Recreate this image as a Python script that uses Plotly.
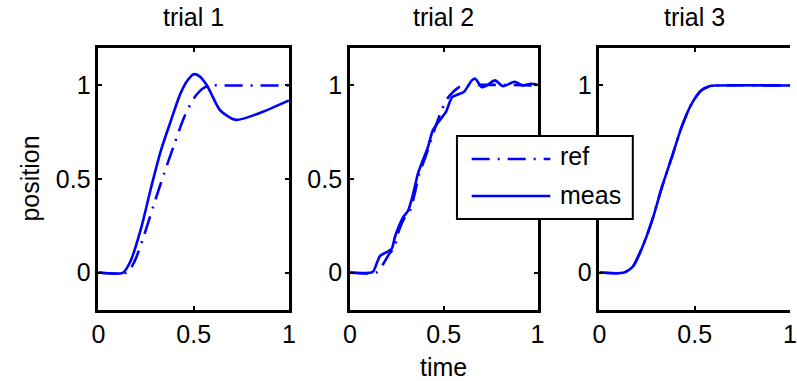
import plotly.graph_objects as go

W, H = 797, 381

# ---------------- data ----------------
trial_titles = ["trial 1", "trial 2", "trial 3"]
series_names = ["ref", "meas"]
tick_vals_x = [0, 0.5, 1]
tick_text_x = ["0", "0.5", "1"]
tick_vals_y = [0, 0.5, 1]
tick_text_y = ["0", "0.5", "1"]
# in trial 3 the "0.5" label sits hidden under the legend box
tick_text_y_hidden = ["0", "", "1"]

t1_ref = [0, 0.15, 0.19, 0.24, 0.29, 0.345, 0.40, 0.45, 0.50, 0.55, 0.59, 0.65, 1.0]
y1_ref = [0, 0, 0.06, 0.20, 0.36, 0.53, 0.69, 0.83, 0.93, 0.985, 1.0, 1.0, 1.0]
t1_meas = [0, 0.13, 0.17, 0.225, 0.277, 0.328, 0.38, 0.43, 0.47, 0.50, 0.53, 0.57, 0.64, 0.72, 0.84, 1.0]
y1_meas = [0, 0, 0.064, 0.24, 0.456, 0.652, 0.81, 0.955, 1.03, 1.06, 1.05, 1.0, 0.866, 0.816, 0.85, 0.92]

t2_ref = [0, 0.14, 0.18, 0.21, 0.235, 0.26, 0.29, 0.32, 0.345, 0.37, 0.40, 0.43, 0.46,
          0.49, 0.52, 0.55, 0.58, 0.61, 1.0]
y2_ref = [0, 0, 0.05, 0.10, 0.13, 0.22, 0.29, 0.33, 0.42, 0.53, 0.61, 0.70, 0.79,
          0.87, 0.93, 0.965, 0.99, 1.0, 1.0]
t2_meas = [0, 0.115, 0.127, 0.162, 0.197, 0.223, 0.24, 0.258, 0.284, 0.31, 0.337, 0.363,
           0.389, 0.416, 0.442, 0.476, 0.511, 0.545, 0.572, 0.607, 0.65, 0.668, 0.703,
           0.73, 0.773, 0.817, 0.878, 0.92, 0.965, 1.0]
y2_meas = [0, 0, 0.01, 0.09, 0.11, 0.127, 0.19, 0.24, 0.296, 0.33, 0.42, 0.53,
           0.60, 0.67, 0.76, 0.81, 0.857, 0.937, 0.95, 0.965, 1.027, 1.036, 0.99,
           1.0, 1.027, 0.996, 1.02, 1.0, 1.009, 1.005]

t3_ref = [0, 0.13, 0.174, 0.225, 0.277, 0.328, 0.38, 0.431, 0.483, 0.534, 0.586, 0.62, 1.0]
y3_ref = [0, 0, 0.03, 0.135, 0.28, 0.456, 0.617, 0.777, 0.90, 0.973, 0.998, 1.0, 1.0]
t3_meas = [0, 0.13, 0.174, 0.225, 0.277, 0.328, 0.38, 0.431, 0.483, 0.534, 0.586, 0.62, 1.0]
y3_meas = [0, 0, 0.03, 0.135, 0.28, 0.456, 0.617, 0.777, 0.90, 0.973, 0.998, 1.0, 1.0]

series = [(t1_ref, y1_ref, t1_meas, y1_meas),
          (t2_ref, y2_ref, t2_meas, y2_meas),
          (t3_ref, y3_ref, t3_meas, y3_meas)]

# ---------------- layout geometry (pixels) ----------------
panels_px = [(93, 287), (349, 540), (603, 797)]
top_px, bot_px = 48, 310

BLUE = "#0000FF"
FONT = "Liberation Sans, Arial, Helvetica, sans-serif"
FS = 25
REF_DASH = "18px,8px,2px,8px"
LW = 2.6

fig = go.Figure()
for i, (tr, yr, tm, ym) in enumerate(series):
    ax = "" if i == 0 else str(i + 1)
    fig.add_trace(go.Scatter(x=tr, y=yr, mode="lines", name=series_names[0],
                             xaxis="x" + ax, yaxis="y" + ax,
                             line=dict(color=BLUE, width=LW, dash=REF_DASH,
                                       shape="spline", smoothing=0.7),
                             showlegend=False))
    fig.add_trace(go.Scatter(x=tm, y=ym, mode="lines", name=series_names[1],
                             xaxis="x" + ax, yaxis="y" + ax,
                             line=dict(color=BLUE, width=LW, shape="spline", smoothing=0.7),
                             showlegend=False))

layout = dict(
    width=W, height=H, margin=dict(l=0, r=0, t=0, b=0),
    paper_bgcolor="white", plot_bgcolor="white",
    font=dict(family=FONT, size=FS, color="black"),
    showlegend=False,
    annotations=[], shapes=[],
)

ydom = [1 - bot_px / H, 1 - top_px / H]
for i, (l, r) in enumerate(panels_px):
    ax = "" if i == 0 else str(i + 1)
    layout["xaxis" + ax] = dict(
        domain=[l / W, min(r / W, 1.0)], range=[0, 1], anchor="y" + ax,
        tickvals=tick_vals_x, ticktext=tick_text_x, ticks="inside", ticklen=4,
        tickwidth=1.5, tickcolor="black", showline=True, linecolor="black",
        linewidth=2.5, mirror="ticks", showgrid=False, zeroline=False,
        tickfont=dict(family=FONT, size=FS, color="black"), fixedrange=True)
    layout["yaxis" + ax] = dict(
        domain=ydom, range=[-0.2, 1.2], anchor="x" + ax,
        tickvals=tick_vals_y,
        ticktext=(tick_text_y if i < 2 else tick_text_y_hidden),
        ticks="inside", ticklen=4,
        tickwidth=1.5, tickcolor="black", showline=True, linecolor="black",
        linewidth=2.5, mirror=("ticks" if i < 2 else False), showgrid=False, zeroline=False,
        tickfont=dict(family=FONT, size=FS, color="black"), fixedrange=True)
    layout["annotations"].append(dict(
        text=trial_titles[i], xref="paper", yref="paper",
        x=(l + r) / 2 / W, y=1 - 17 / H, xanchor="center", yanchor="middle",
        showarrow=False, font=dict(family=FONT, size=FS, color="black")))

layout["annotations"].append(dict(
    text="time", xref="paper", yref="paper", x=444.5 / W, y=1 - 367 / H,
    xanchor="center", yanchor="middle", showarrow=False,
    font=dict(family=FONT, size=FS, color="black")))
layout["annotations"].append(dict(
    text="position", xref="paper", yref="paper", x=23 / W, y=1 - 179 / H,
    xanchor="center", yanchor="middle", showarrow=False, textangle=-90,
    font=dict(family=FONT, size=FS, color="black")))

# ---------------- legend box (drawn above the axes, like the reference) ----------------
def px_x(v):
    return v / W

def px_y(v):
    return 1 - v / H

layout["shapes"].append(dict(
    type="rect", xref="paper", yref="paper", layer="above",
    x0=px_x(458), x1=px_x(637), y0=px_y(136), y1=px_y(219),
    fillcolor="white", line=dict(color="black", width=2)))
legend_rows = [(series_names[0], 159, 156, REF_DASH), (series_names[1], 196, 195, "solid")]
for name, yline, ytext, dash in legend_rows:
    layout["shapes"].append(dict(
        type="line", xref="paper", yref="paper", layer="above",
        x0=px_x(473), x1=px_x(553), y0=px_y(yline), y1=px_y(yline),
        line=dict(color=BLUE, width=LW, dash=dash)))
    layout["annotations"].append(dict(
        text=name, xref="paper", yref="paper", x=px_x(562), y=px_y(ytext),
        xanchor="left", yanchor="middle", showarrow=False, borderpad=0,
        font=dict(family=FONT, size=FS, color="black")))

fig.update_layout(**layout)
fig.write_html("out.html")
